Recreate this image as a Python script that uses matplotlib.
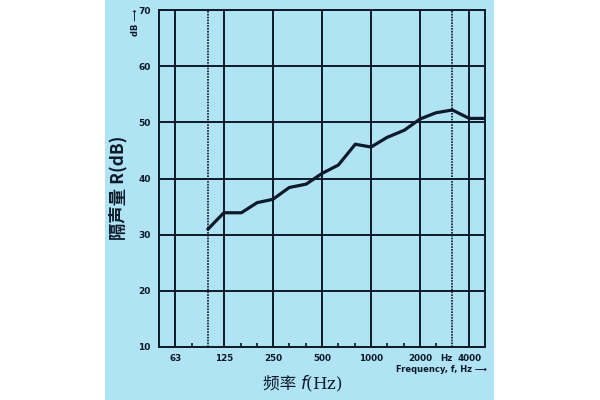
import matplotlib
matplotlib.use("Agg")
import matplotlib.pyplot as plt
from matplotlib.patches import Rectangle

plt.rcParams['font.family'] = ['Noto Sans CJK SC', 'DejaVu Sans']

# third-octave band centre frequencies and measured sound reduction index
freqs = [100, 125, 160, 200, 250, 315, 400, 500, 630, 800,
         1000, 1250, 1600, 2000, 2500, 3150, 4000, 5000]
r_db = [31.0, 33.9, 33.9, 35.7, 36.3, 38.4, 39.0, 40.9, 42.4, 46.1,
        45.6, 47.3, 48.6, 50.6, 51.7, 52.2, 50.7, 50.7]

octave_lines = [63, 125, 250, 500, 1000, 2000, 4000]
dashed_lines = [100, 3150]
minor_ticks = [80, 160, 200, 315, 400, 630, 800, 1250, 1600, 2500]
x_tick_pos = [63, 125, 250, 500, 1000, 2000, 3150, 4000]
x_tick_labels = ['63', '125', '250', '500', '1000', '2000', 'Hz', '4000']
y_ticks = [10, 20, 30, 40, 50, 60, 70]

bg = '#b0e3f3'
ink = '#0d1a2a'

fig = plt.figure(figsize=(6, 4), dpi=100)
fig.patch.set_facecolor('white')
band = Rectangle((105 / 600, 0), 389 / 600, 1, transform=fig.transFigure,
                 facecolor=bg, edgecolor='none', zorder=-5)
fig.add_artist(band)

ax = fig.add_axes([159 / 600, 53 / 400, 326 / 600, 337 / 400])
ax.set_zorder(2)
ax.set_facecolor(bg)
ax.set_xscale('log')
ax.set_xlim(50, 5000)
ax.set_ylim(10, 70)

for f in octave_lines:
    ax.axvline(f, color=ink, lw=1.4, zorder=1)
for f in dashed_lines:
    ax.axvline(f, color=ink, lw=1.2, ls=(0, (1.0, 0.7)), zorder=1)
for y in y_ticks:
    ax.axhline(y, color=ink, lw=1.4, zorder=1)

ax.plot(freqs, r_db, color=ink, lw=2.3, zorder=3, solid_joinstyle='round')

for s in ax.spines.values():
    s.set_color(ink)
    s.set_linewidth(1.4)

ax.set_xticks(x_tick_pos)
ax.set_xticklabels(x_tick_labels)
ax.set_xticks(minor_ticks, minor=True)
ax.set_xticklabels([], minor=True)
ax.tick_params(axis='x', which='major', length=0, pad=5, labelsize=6.3, colors=ink)
ax.tick_params(axis='x', which='minor', direction='in', length=3, width=1.2, color=ink)
ax.set_yticks(y_ticks)
ax.tick_params(axis='y', length=0, pad=6, labelsize=6.5, colors=ink)
for lbl in ax.get_xticklabels() + ax.get_yticklabels():
    lbl.set_fontweight('bold')
    lbl.set_family('DejaVu Sans')
ax.get_xticklabels()[6].set_horizontalalignment('right')

# axis captions
fig.text(487 / 600, 1 - 370 / 400, 'Frequency, f, Hz ⟶', ha='right', va='center',
         fontsize=6, fontweight='bold', color=ink, family='DejaVu Sans')
fig.text(300 / 600, 1 - 384 / 400, '频率 ', ha='right', va='center',
         fontsize=12, color=ink)
fig.text(300 / 600, 1 - 384 / 400, r'$f$(Hz)', ha='left', va='center',
         fontsize=12, color=ink, family='DejaVu Serif')
fig.text(118 / 600, 1 - 188 / 400, '隔声量 R(dB)', rotation=90, ha='center', va='center',
         fontsize=12.5, fontweight='bold', color=ink)
fig.text(135 / 600, 1 - 22 / 400, 'dB ⟶', rotation=90, ha='center', va='center',
         fontsize=6, fontweight='bold', color=ink, family='DejaVu Sans')

fig.savefig('out.png', dpi=100, facecolor=fig.get_facecolor())
